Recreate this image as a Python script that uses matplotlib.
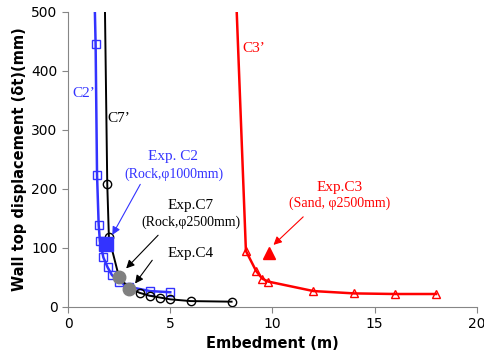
import numpy as np
import matplotlib
matplotlib.use("Agg")
import matplotlib.pyplot as plt

# C2' (rock, phi 1000mm) - first point only extends the line past the top
c2_x = [1.25, 1.35, 1.42, 1.50, 1.56, 1.73, 1.94, 2.15, 2.5, 3.0, 4.0, 5.0]
c2_y = [600, 445, 224, 139, 112, 84, 67, 54, 43, 34, 27, 25]
# C7' (rock, phi 2500mm)
c7_x = [1.77, 1.92, 2.0, 2.5, 3.0, 3.5, 4.0, 4.5, 5.0, 6.0, 8.0]
c7_y = [600, 208, 118, 50, 32, 24, 19, 16, 13, 10, 9]
# C3' (sand, phi 2500mm)
c3_x = [8.14, 8.7, 9.2, 9.5, 9.8, 12.0, 14.0, 16.0, 18.0]
c3_y = [600, 95, 61, 48, 43, 27, 23, 22, 22]

# experimental points
exp_c2 = (1.84, 107)
exp_c7 = (2.5, 50)
exp_c4 = (3.0, 31)
exp_c3 = (9.81, 91)

blue = "#3333ff"
red = "#ff0000"
serif = "Liberation Serif"

fig = plt.figure(figsize=(4.84, 3.58), dpi=100)
ax = fig.add_axes([0.1405, 0.1425, 0.845, 0.824])

ax.plot(c2_x, c2_y, color=blue, lw=1.8, marker="s", ms=6, mfc="none",
        mec=blue, mew=1.0, markevery=list(range(1, len(c2_x))))
ax.plot(c7_x, c7_y, color="black", lw=1.4, marker="o", ms=6, mfc="none",
        mec="black", mew=1.0, markevery=list(range(1, len(c7_x))))
ax.plot(c3_x, c3_y, color=red, lw=1.8, marker="^", ms=6, mfc="none",
        mec=red, mew=1.0, markevery=list(range(1, len(c3_x))))

ax.plot(*exp_c2, marker="s", ms=10, color=blue, ls="none")
ax.plot(*exp_c7, marker="o", ms=9, color="#808080", ls="none")
ax.plot(*exp_c4, marker="o", ms=9, color="#808080", ls="none")
ax.plot(*exp_c3, marker="^", ms=9, color=red, ls="none")

# curve labels
ax.text(0.75, 362, "C2’", color=blue, fontsize=11, family=serif, ha="center", va="center")
ax.text(2.5, 319, "C7’", color="black", fontsize=11, family=serif, ha="center", va="center")
ax.text(9.1, 438, "C3’", color=red, fontsize=11, family=serif, ha="center", va="center")

# annotations
ax.annotate("", xy=(2.1, 118), xytext=(3.6, 212),
            arrowprops=dict(arrowstyle="-|>", color=blue, lw=0.8, mutation_scale=12))
ax.text(5.15, 255, "Exp. C2", color=blue, fontsize=11, family=serif, ha="center", va="center")
ax.text(5.2, 225, "(Rock,φ1000mm)", color=blue, fontsize=10, family=serif, ha="center", va="center")

ax.annotate("", xy=(2.75, 62), xytext=(4.5, 125),
            arrowprops=dict(arrowstyle="-|>", color="black", lw=0.8, mutation_scale=12))
ax.text(6.0, 172, "Exp.C7", color="black", fontsize=11, family=serif, ha="center", va="center")
ax.text(6.0, 143, "(Rock,φ2500mm)", color="black", fontsize=10, family=serif, ha="center", va="center")

ax.annotate("", xy=(3.2, 36), xytext=(4.2, 83),
            arrowprops=dict(arrowstyle="-|>", color="black", lw=0.8, mutation_scale=12))
ax.text(6.0, 91, "Exp.C4", color="black", fontsize=11, family=serif, ha="center", va="center")

ax.annotate("", xy=(9.95, 102), xytext=(11.6, 156),
            arrowprops=dict(arrowstyle="-|>", color=red, lw=0.8, mutation_scale=12))
ax.text(13.3, 203, "Exp.C3", color=red, fontsize=11, family=serif, ha="center", va="center")
ax.text(13.3, 175, "(Sand, φ2500mm)", color=red, fontsize=10, family=serif, ha="center", va="center")

ax.set_xlim(0, 20)
ax.set_ylim(0, 500)
ax.set_xticks(np.arange(0, 21, 5))
ax.set_yticks(np.arange(0, 501, 100))
for s in ["top", "right"]:
    ax.spines[s].set_visible(False)
for s in ["left", "bottom"]:
    ax.spines[s].set_color("#868686")
ax.tick_params(direction="out", color="#868686", length=4, labelsize=10, width=0.8)
ax.set_xlabel("Embedment (m)", fontsize=10.5, fontweight="bold", labelpad=3)
ax.set_ylabel("Wall top displacement (δt)(mm)", fontsize=10.5, fontweight="bold", labelpad=3)

fig.savefig("out.png", dpi=100)
